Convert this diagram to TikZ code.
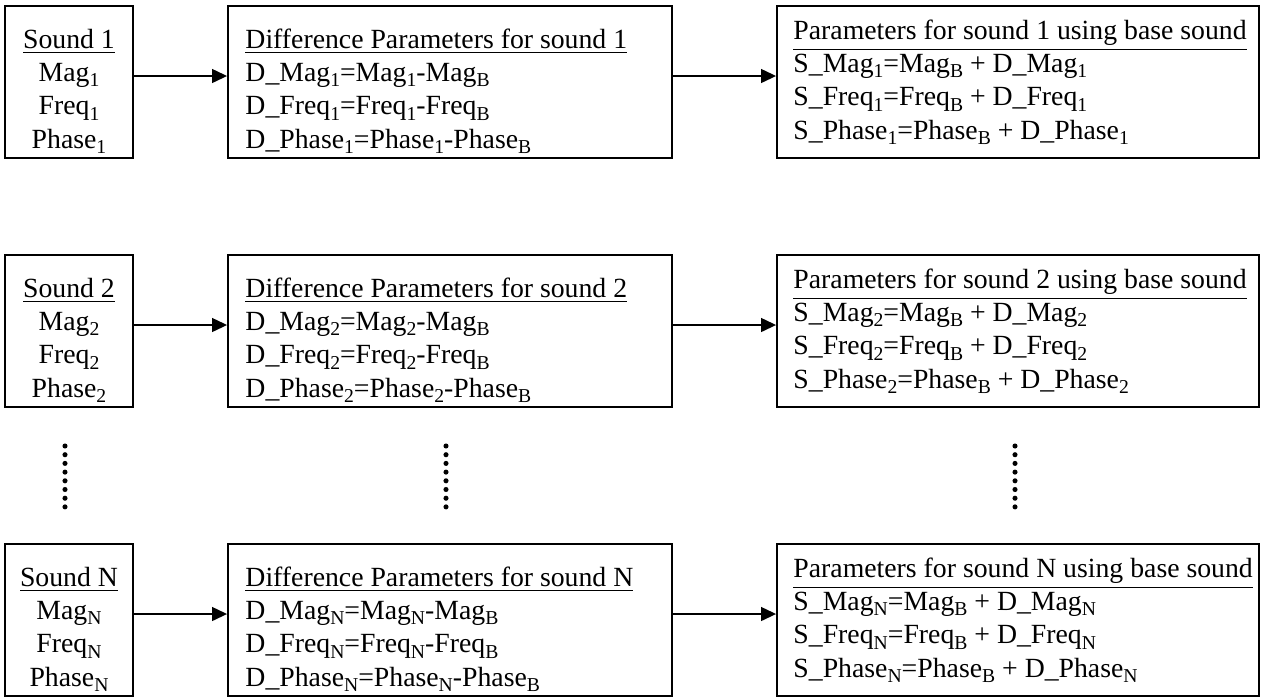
\documentclass[tikz,border=0pt]{standalone}
\usepackage{fontspec}
\setmainfont{Liberation Serif}
\usetikzlibrary{arrows.meta}
\newcommand{\sbs}[1]{\raisebox{-2.2pt}{\fontsize{8.5}{9}\selectfont #1}}
\newcommand{\pxu}{0.4324pt}
\begin{document}
\begin{tikzpicture}[x=0.4324pt,y=-0.4324pt,
  box/.style={draw,line width=0.8pt,inner sep=0pt,minimum height=152*\pxu},
  txt/.style={inner sep=0pt,font=\fontsize{12}{14.3}\selectfont},
  arr/.style={-{Triangle[length=6.5pt,width=6pt]},line width=0.75pt}]
\useasboundingbox (0,0) rectangle (1261,697);
\foreach \row/\ytop in {1/6,2/255,N/544}{
  \node[box,minimum width=128*\pxu] (s\row) at (69,\ytop+76) {};
  \node[box,minimum width=444*\pxu] (d\row) at (450,\ytop+76) {};
  \node[box,minimum width=482*\pxu] (p\row) at (1018,\ytop+76) {};
  \node[txt,anchor=base,align=center] (s\row t) at (69,\ytop+142)
    {\underline{Sound \row}\\Mag\sbs{\row}\\Freq\sbs{\row}\\Phase\sbs{\row}};
  \node[txt,anchor=base west,align=left] (d\row t) at (245,\ytop+142)
    {\underline{Difference Parameters for sound \row}\\
     D\_Mag\sbs{\row}=Mag\sbs{\row}-Mag\sbs{B}\\
     D\_Freq\sbs{\row}=Freq\sbs{\row}-Freq\sbs{B}\\
     D\_Phase\sbs{\row}=Phase\sbs{\row}-Phase\sbs{B}};
  \node[txt,anchor=base west,align=left] (p\row t) at (793,\ytop+133)
    {\underline{Parameters for sound \row{} using base sound}\\
     S\_Mag\sbs{\row}=Mag\sbs{B} + D\_Mag\sbs{\row}\\
     S\_Freq\sbs{\row}=Freq\sbs{B} + D\_Freq\sbs{\row}\\
     S\_Phase\sbs{\row}=Phase\sbs{B} + D\_Phase\sbs{\row}};
  \draw[arr] ([yshift=6*\pxu]s\row.east) -- ([yshift=6*\pxu]d\row.west);
  \draw[arr] ([yshift=6*\pxu]d\row.east) -- ([yshift=6*\pxu]p\row.west);
}
\foreach \x in {65,446,1015}
  \foreach \k in {0,...,7}
    \fill (\x,446+\k*8.7) circle (1.1pt);
\end{tikzpicture}
\end{document}
